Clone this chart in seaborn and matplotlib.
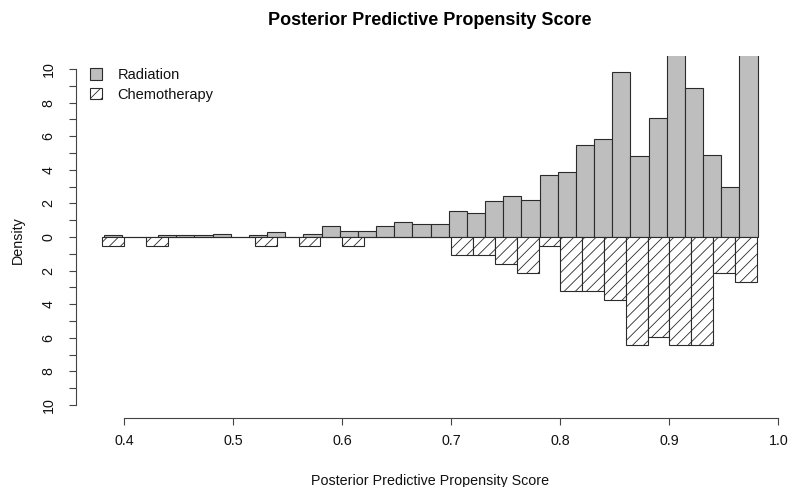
import numpy as np
import pandas as pd
import matplotlib
matplotlib.use("Agg")
import matplotlib.pyplot as plt
from matplotlib.patches import Patch
import seaborn as sns

# radiation histogram: 36 equal bins between 0.381 and 0.981
rad_edges = list(np.linspace(0.381, 0.981, 37))
rad_density = [0.1, 0, 0, 0.1, 0.1, 0.1, 0.2, 0, 0.1, 0.32, 0, 0.2,
               0.67, 0.33, 0.33, 0.67, 0.87, 0.75, 0.75, 1.53, 1.41, 2.12,
               2.44, 2.22, 3.7, 3.85, 5.49, 5.83, 9.84, 4.8, 7.1, 13.0,
               8.87, 4.9, 2.98, 14.0]

# chemotherapy histogram: bins of 0.02 from 0.38 to 0.98 (drawn downwards)
chemo_edges = list(np.linspace(0.38, 0.98, 31))
chemo_density = [0.53, 0, 0.53, 0, 0, 0, 0, 0.53, 0, 0.53, 0, 0.53, 0, 0, 0,
                 0, 1.05, 1.05, 1.58, 2.12, 0.53, 3.2, 3.2, 3.75, 6.45, 5.93,
                 6.45, 6.45, 2.12, 2.69]

x_ticks = [0.4, 0.5, 0.6, 0.7, 0.8, 0.9, 1.0]
x_ticklabels = ["0.4", "0.5", "0.6", "0.7", "0.8", "0.9", "1.0"]
y_ticks = list(range(-10, 11))

sns.set_style("ticks")
plt.rcParams["font.family"] = ["Liberation Sans", "DejaVu Sans"]
plt.rcParams["text.color"] = "black"
plt.rcParams["hatch.linewidth"] = 0.6
plt.rcParams["hatch.color"] = "#222222"

fig = plt.figure(figsize=(7.88, 4.87), dpi=100)
ax = fig.add_axes([0.0968, 0.1409, 0.8965, 0.7449])

rad_df = pd.DataFrame({
    "score": [(a + b) / 2 for a, b in zip(rad_edges[:-1], rad_edges[1:])],
    "w": rad_density,
})
chemo_df = pd.DataFrame({
    "score": [(a + b) / 2 for a, b in zip(chemo_edges[:-1], chemo_edges[1:])],
    "w": [-v for v in chemo_density],
})

sns.histplot(data=rad_df, x="score", weights="w", bins=rad_edges, ax=ax,
             facecolor="#bebebe", edgecolor="#2b2b2b", linewidth=0.8, alpha=1)
sns.histplot(data=chemo_df, x="score", weights="w", bins=chemo_edges, ax=ax,
             facecolor="white", edgecolor="#2b2b2b", linewidth=0.8, alpha=1,
             hatch="///")

ax.set_xlim(0.356, 1.004)
ax.set_ylim(-10.8, 10.8)

for s in ["top", "right"]:
    ax.spines[s].set_visible(False)
ax.spines["left"].set_bounds(-10, 10)
ax.spines["bottom"].set_bounds(0.4, 1.0)
for s in ["left", "bottom"]:
    ax.spines[s].set_color("#444444")
    ax.spines[s].set_linewidth(0.8)

ax.set_xticks(x_ticks)
ax.set_xticklabels(x_ticklabels)
ax.set_yticks(y_ticks)
ax.set_yticklabels([str(abs(v)) if v % 2 == 0 else "" for v in y_ticks],
                   rotation=90, va="center")
ax.tick_params(axis="both", length=5, width=0.8, color="#444444",
               labelsize=10.3, labelcolor="#111111")
ax.tick_params(axis="x", pad=6)
ax.tick_params(axis="y", pad=10)
ax.set_xlabel("")
ax.set_ylabel("")

fig.text(0.5457, 0.957, "Posterior Predictive Propensity Score",
         ha="center", va="center", fontsize=13, fontweight="bold", color="black")
fig.text(0.5457, 0.012, "Posterior Predictive Propensity Score",
         ha="center", va="center", fontsize=10.3, color="#111111")
fig.text(0.023, 0.507, "Density", rotation=90, ha="center", va="center",
         fontsize=10.3, color="#111111")

handles = [Patch(facecolor="#bebebe", edgecolor="#2b2b2b", linewidth=0.8),
           Patch(facecolor="white", edgecolor="#2b2b2b", linewidth=0.8, hatch="///")]
leg = ax.legend(handles, ["Radiation", "Chemotherapy"], loc="upper left",
                bbox_to_anchor=(90 / 788, 1 - 68 / 487), bbox_transform=fig.transFigure,
                frameon=False, fontsize=10.5, handlelength=0.8, handleheight=0.8,
                handletextpad=1.1, labelspacing=0.4, borderpad=0, borderaxespad=0)
for t in leg.get_texts():
    t.set_color("#111111")

fig.savefig("out.png", dpi=100)
